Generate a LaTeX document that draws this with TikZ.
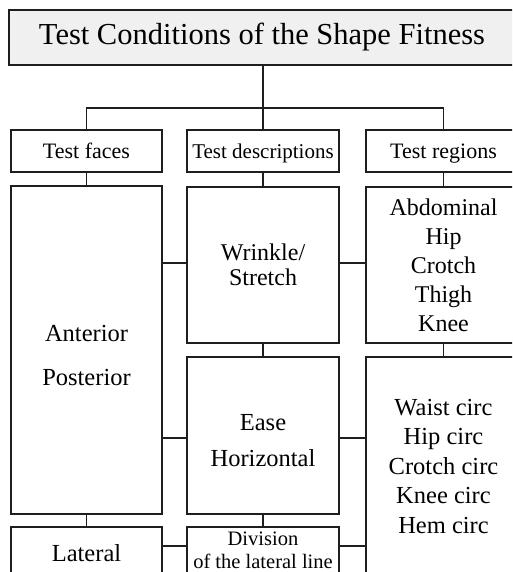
\documentclass[tikz,border=0pt]{standalone}
\usepackage{fontspec}
\setmainfont{Liberation Serif}
\usetikzlibrary{positioning}
\definecolor{linegray}{HTML}{1E1E1E}
\definecolor{titlefill}{HTML}{F0F0F0}

\tikzset{
  cell/.style={draw=linegray, line width=1.8pt, anchor=north west, outer sep=0pt,
    inner sep=0pt, align=center, minimum width=151pt,
    font=\fontsize{24.5}{29.5}\selectfont},
  head/.style={cell, minimum height=42pt, text height=17pt, text depth=1pt,
    font=\fontsize{22}{26}\selectfont},
  inlabel/.style={align=center, inner sep=0pt},
  link/.style={draw=linegray, line width=1.8pt},
}

\begin{document}
\begin{tikzpicture}[x=1pt, y=-1pt]

\useasboundingbox (0,0) rectangle (512,572);
\clip (0,0) rectangle (512,572);

% top box
\node[cell, fill=titlefill, minimum width=506pt, minimum height=55pt,
  font=\fontsize{30.5}{36}\selectfont] (title) at (9,10)
  {Test Conditions of the Shape Fitness};

% column heads
\node[head] (faces) at (11,130) {Test faces};
\node[head, minimum width=152pt, font=\fontsize{21}{26}\selectfont] (descr)
  at (187,130) {Test descriptions};
\node[head, minimum width=155pt] (regions) at (366,130) {Test regions};

% first column
\node[cell, minimum height=328pt,
  label={[inlabel, yshift=-6pt, font=\fontsize{24.5}{44}\selectfont]center:Anterior\\Posterior}]
  (front) at (11,186) {};
\node[cell, minimum height=53pt] (lateral) at (11,527) {Lateral};

% second column
\node[cell, minimum width=152pt, minimum height=156pt,
  font=\fontsize{24}{25}\selectfont] (wrinkle) at (187,187) {Wrinkle/\\Stretch};
\node[cell, minimum width=152pt, minimum height=157pt,
  label={[inlabel, yshift=-5pt, font=\fontsize{24.5}{36}\selectfont]center:Ease\\Horizontal}]
  (ease) at (187,357) {};
\node[cell, minimum width=152pt, minimum height=47pt,
  font=\fontsize{20.5}{23}\selectfont] (division) at (187,527)
  {Division\\of the lateral line};

% third column
\node[cell, minimum width=155pt, minimum height=156pt,
  font=\fontsize{24}{29}\selectfont] (upper) at (366,187)
  {Abdominal\\Hip\\Crotch\\Thigh\\Knee};
\node[cell, minimum width=155pt, minimum height=219pt] (girth) at (366,357)
  {Waist circ\\Hip circ\\Crotch circ\\Knee circ\\Hem circ};

\coordinate (fork) at (263,108);

\begin{scope}[link]
\draw (title.south -| fork) -- (fork);
\draw (faces.north) |- (fork) -| (regions.north);
\draw (fork) -- (descr.north);
\draw (faces) -- (front);
\draw (descr) -- (wrinkle);
\draw (regions) -- (upper);
\draw (wrinkle) -- (ease);
\draw (upper) -- (girth);
\draw (front) -- (lateral);
\draw (ease) -- (division);
\draw ([yshift=2pt]wrinkle.west -| front.east) -- ([yshift=2pt]wrinkle.west);
\draw ([yshift=2pt]wrinkle.east) -- ([yshift=2pt]wrinkle.east -| upper.west);
\draw ([yshift=-2.5pt]ease.west -| front.east) -- ([yshift=-2.5pt]ease.west);
\draw ([yshift=-2.5pt]ease.east) -- ([yshift=-2.5pt]ease.east -| girth.west);
\draw ([yshift=4.5pt]division.west -| lateral.east) -- ([yshift=4.5pt]division.west);
\draw ([yshift=4.5pt]division.east) -- ([yshift=4.5pt]division.east -| girth.west);
\end{scope}

\end{tikzpicture}
\end{document}
